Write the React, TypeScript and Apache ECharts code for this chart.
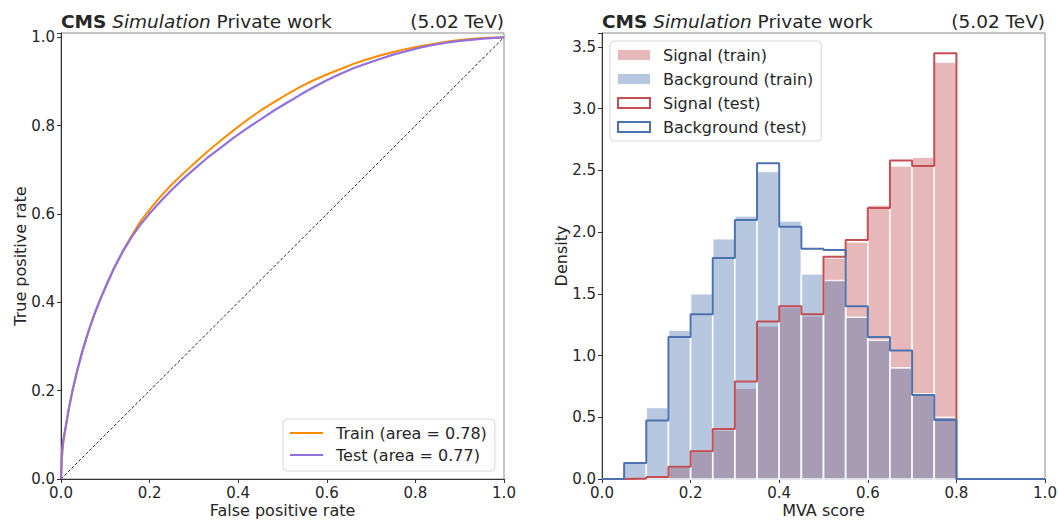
import React, { useEffect, useRef } from 'react';
import * as echarts from 'echarts';

// ROC curves
const trainFpr = [0, 0.002, 0.005, 0.01, 0.017, 0.025, 0.035, 0.047, 0.06, 0.075, 0.09, 0.105, 0.12, 0.14, 0.16, 0.18, 0.2, 0.225, 0.25, 0.275, 0.3, 0.33, 0.36, 0.39, 0.42, 0.45, 0.48, 0.51, 0.54, 0.57, 0.6, 0.63, 0.66, 0.69, 0.72, 0.75, 0.78, 0.81, 0.84, 0.87, 0.9, 0.93, 0.96, 1.0];
const trainTpr = [0, 0.045, 0.08, 0.113, 0.156, 0.196, 0.239, 0.285, 0.328, 0.372, 0.41, 0.445, 0.478, 0.517, 0.552, 0.584, 0.61, 0.64, 0.667, 0.691, 0.714, 0.741, 0.766, 0.79, 0.813, 0.834, 0.853, 0.871, 0.888, 0.903, 0.916, 0.928, 0.94, 0.95, 0.959, 0.967, 0.974, 0.98, 0.985, 0.99, 0.994, 0.997, 0.999, 1.0];
const testFpr = [0, 0.002, 0.005, 0.01, 0.017, 0.025, 0.035, 0.047, 0.06, 0.075, 0.09, 0.105, 0.12, 0.14, 0.16, 0.18, 0.2, 0.225, 0.25, 0.275, 0.3, 0.33, 0.36, 0.39, 0.42, 0.45, 0.48, 0.51, 0.54, 0.57, 0.6, 0.63, 0.66, 0.69, 0.72, 0.75, 0.78, 0.81, 0.84, 0.87, 0.9, 0.93, 0.96, 1.0];
const testTpr = [0, 0.06, 0.088, 0.115, 0.156, 0.196, 0.239, 0.285, 0.328, 0.372, 0.41, 0.445, 0.478, 0.516, 0.549, 0.577, 0.601, 0.629, 0.655, 0.679, 0.701, 0.727, 0.75, 0.773, 0.794, 0.814, 0.834, 0.852, 0.87, 0.887, 0.903, 0.917, 0.93, 0.941, 0.951, 0.961, 0.969, 0.977, 0.983, 0.988, 0.992, 0.995, 0.998, 1.0];

// Histograms (20 bins of width 0.05 over [0, 1])
const binEdges = [0, 0.05, 0.1, 0.15, 0.2, 0.25, 0.3, 0.35, 0.4, 0.45, 0.5, 0.55, 0.6, 0.65, 0.7, 0.75, 0.8, 0.85, 0.9, 0.95, 1.0];
const sigTrain = [0, 0, 0.01, 0.095, 0.22, 0.395, 0.735, 1.24, 1.39, 1.32, 1.79, 1.92, 2.22, 2.535, 2.606, 3.376, 0, 0, 0, 0];
const bkgTrain = [0, 0.138, 0.58, 1.205, 1.5, 1.946, 2.13, 2.49, 2.09, 1.66, 1.608, 1.31, 1.124, 0.9, 0.69, 0.5, 0, 0, 0, 0];
const sigTest = [0, 0.005, 0.016, 0.1, 0.225, 0.405, 0.79, 1.275, 1.4, 1.335, 1.8, 1.935, 2.195, 2.58, 2.535, 3.447, 0, 0, 0, 0];
const bkgTest = [0, 0.13, 0.473, 1.15, 1.335, 1.79, 2.097, 2.557, 2.043, 1.865, 1.854, 1.4, 1.15, 1.04, 0.68, 0.478, 0, 0, 0, 0];

const FONT = 'DejaVu Sans';
const TXT = '#262626';
const RED = '#C44E52';
const BLUE = '#4C72B0';
const ORANGE = '#FF8C00';
const PURPLE = '#9370DB';

const zip = (a: number[], b: number[]) => a.map((v, i) => [v, b[i]]);
const binsData = (vals: number[]) => vals.map((v, i) => [binEdges[i], binEdges[i + 1], v]);
const stepData = (vals: number[]) => {
  const d = vals.map((v, i) => [binEdges[i], v]);
  d.push([binEdges[binEdges.length - 1], vals[vals.length - 1]]);
  return d;
};

const fmt = (step: number) => (v: number) =>
  Math.abs(v / step - Math.round(v / step)) < 1e-6 ? v.toFixed(1) : '';

const makeAxes = (idx: number, ymax: number, yint: number, xname: string, yname: string) => ({
  x: {
    type: 'value', gridIndex: idx, min: 0, max: 1, interval: 0.2,
    name: xname, nameLocation: 'middle', nameGap: 23, nameMoveOverlap: false,
    nameTextStyle: { fontFamily: FONT, fontSize: 16, color: TXT, lineHeight: 16 },
    axisLine: { show: true, lineStyle: { color: '#333', width: 1 } },
    axisTick: { show: true, length: 4, lineStyle: { color: '#333' } },
    axisLabel: { fontFamily: FONT, fontSize: 15, color: TXT, margin: 6, formatter: fmt(0.2) },
    splitLine: { show: false },
  },
  y: {
    type: 'value', gridIndex: idx, min: 0, max: ymax, interval: yint,
    name: yname, nameLocation: 'middle', nameGap: 33, nameMoveOverlap: false,
    nameTextStyle: { fontFamily: FONT, fontSize: 16, color: TXT, lineHeight: 16 },
    axisLine: { show: true, lineStyle: { color: '#333', width: 1 } },
    axisTick: { show: true, length: 4, lineStyle: { color: '#333' } },
    axisLabel: { fontFamily: FONT, fontSize: 15, color: TXT, margin: 6, formatter: fmt(yint) },
    splitLine: { show: false },
  },
});

const histRender = (color: string) => (params: any, api: any) => {
  const x0 = api.value(0);
  const x1 = api.value(1);
  const v = api.value(2);
  if (!(v > 0)) return null;
  const p0 = api.coord([x0, 0]);
  const p1 = api.coord([x1, v]);
  return {
    type: 'rect',
    shape: { x: p0[0], y: p1[1], width: p1[0] - p0[0], height: p0[1] - p1[1] },
    style: { fill: color, stroke: 'rgba(255,255,255,0.85)', lineWidth: 1.6 },
  };
};

const TS = 18.5;
const titleGraphic = (left: number, right: number) => [
  {
    type: 'text', x: left, y: 21,
    style: {
      text: '{b|CMS} {i|Simulation} {n|Private work}',
      verticalAlign: 'middle', align: 'left',
      rich: {
        b: { fontFamily: FONT, fontSize: TS, fontWeight: 'bold', fill: TXT },
        i: { fontFamily: FONT, fontSize: TS, fontStyle: 'italic', fill: TXT },
        n: { fontFamily: FONT, fontSize: TS, fill: TXT },
      },
      fontFamily: FONT, fontSize: TS, fill: TXT,
    },
  },
  {
    type: 'text', x: right, y: 21,
    style: { text: '(5.02 TeV)', fontFamily: FONT, fontSize: TS, fill: TXT, align: 'right', verticalAlign: 'middle' },
  },
];

export default function App() {
  const ref = useRef<HTMLDivElement>(null);
  useEffect(() => {
    if (!ref.current) return;
    const chart = echarts.init(ref.current, undefined, { renderer: 'svg' });
    const a0 = makeAxes(0, 1.01, 0.2, 'False positive rate', 'True positive rate');
    const a1 = makeAxes(1, 3.612, 0.5, 'MVA score', 'Density');
    const gridBase = {
      show: true, borderColor: '#8a8a8a', borderWidth: 1, backgroundColor: 'transparent',
      containLabel: false, outerBoundsMode: 'none',
    };
    chart.setOption({
      animation: false,
      backgroundColor: '#fff',
      grid: [
        { ...gridBase, left: 61, top: 33, width: 443, height: 446 },
        { ...gridBase, left: 602, top: 33, width: 443, height: 446 },
      ],
      xAxis: [a0.x, a1.x],
      yAxis: [a0.y, a1.y],
      legend: [
        {
          left: 283, top: 419, orient: 'vertical',
          padding: [5, 8, 7, 7], itemGap: 4, itemWidth: 33, itemHeight: 2,
          borderColor: '#d6d6d6', borderWidth: 1, borderRadius: 4, backgroundColor: 'rgba(255,255,255,0.8)',
          textStyle: { fontFamily: FONT, fontSize: 16, color: TXT, lineHeight: 18, padding: [0, 0, 0, 8] },
          selectedMode: false,
          data: [
            { name: 'Train (area = 0.78)', icon: 'rect', itemStyle: { color: ORANGE } },
            { name: 'Test (area = 0.77)', icon: 'rect', itemStyle: { color: PURPLE } },
          ],
        },
        {
          left: 610, top: 41, orient: 'vertical',
          padding: [5, 8, 5, 7], itemGap: 6, itemWidth: 32, itemHeight: 10,
          borderColor: '#d6d6d6', borderWidth: 1, borderRadius: 4, backgroundColor: 'rgba(255,255,255,0.8)',
          textStyle: { fontFamily: FONT, fontSize: 16, color: TXT, lineHeight: 18, padding: [0, 0, 0, 8] },
          selectedMode: false,
          data: [
            { name: 'Signal (train)', icon: 'rect', itemStyle: { color: 'rgba(196,78,82,0.4)', borderWidth: 0 } },
            { name: 'Background (train)', icon: 'rect', itemStyle: { color: 'rgba(76,114,176,0.4)', borderWidth: 0 } },
            { name: 'Signal (test)', icon: 'rect', itemStyle: { color: '#fff', borderColor: RED, borderWidth: 2 } },
            { name: 'Background (test)', icon: 'rect', itemStyle: { color: '#fff', borderColor: BLUE, borderWidth: 2 } },
          ],
        },
      ],
      graphic: [...titleGraphic(61, 504), ...titleGraphic(602, 1045)],
      series: [
        {
          name: 'diag', type: 'line', xAxisIndex: 0, yAxisIndex: 0,
          data: [[0, 0], [1, 1]], symbol: 'none',
          lineStyle: { color: '#222', width: 1, type: [3, 2] }, z: 1,
        },
        {
          name: 'Train (area = 0.78)', type: 'line', xAxisIndex: 0, yAxisIndex: 0,
          data: zip(trainFpr, trainTpr), symbol: 'none', showSymbol: false,
          lineStyle: { color: ORANGE, width: 2, join: 'round' }, itemStyle: { color: ORANGE }, z: 2,
        },
        {
          name: 'Test (area = 0.77)', type: 'line', xAxisIndex: 0, yAxisIndex: 0,
          data: zip(testFpr, testTpr), symbol: 'none', showSymbol: false,
          lineStyle: { color: PURPLE, width: 2.2, join: 'round' }, itemStyle: { color: PURPLE }, z: 3,
        },
        {
          name: 'Signal (train)', type: 'custom', xAxisIndex: 1, yAxisIndex: 1,
          data: binsData(sigTrain), encode: { x: [0, 1], y: 2 },
          renderItem: histRender('rgba(196,78,82,0.4)'), itemStyle: { color: 'rgba(196,78,82,0.4)' }, z: 1,
        },
        {
          name: 'Background (train)', type: 'custom', xAxisIndex: 1, yAxisIndex: 1,
          data: binsData(bkgTrain), encode: { x: [0, 1], y: 2 },
          renderItem: histRender('rgba(76,114,176,0.4)'), itemStyle: { color: 'rgba(76,114,176,0.4)' }, z: 2,
        },
        {
          name: 'Signal (test)', type: 'line', xAxisIndex: 1, yAxisIndex: 1,
          data: stepData(sigTest), step: 'end', symbol: 'none', showSymbol: false,
          lineStyle: { color: RED, width: 2 }, itemStyle: { color: RED }, z: 3,
        },
        {
          name: 'Background (test)', type: 'line', xAxisIndex: 1, yAxisIndex: 1,
          data: stepData(bkgTest), step: 'end', symbol: 'none', showSymbol: false,
          lineStyle: { color: BLUE, width: 2 }, itemStyle: { color: BLUE }, z: 4,
        },
      ],
    });
    return () => chart.dispose();
  }, []);
  return (
    <div
      ref={ref}
      style={{ position: 'fixed', left: 0, top: 0, width: 1058, height: 520, background: '#fff' }}
    />
  );
}
